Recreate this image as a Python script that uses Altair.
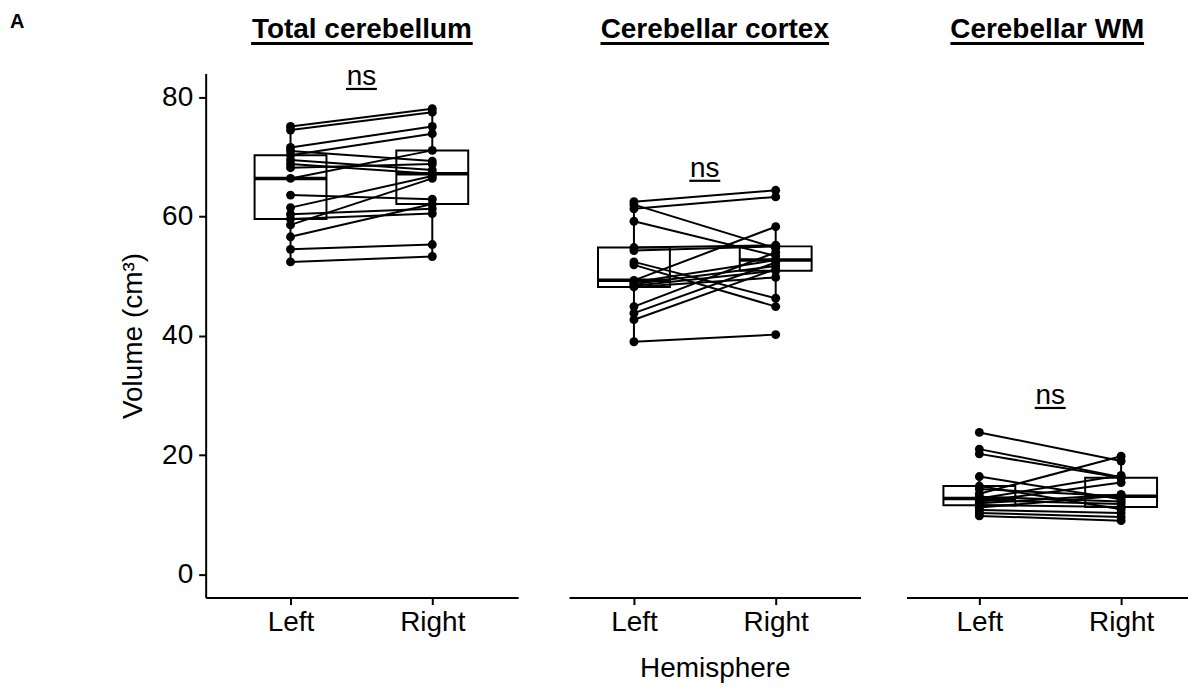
import altair as alt
import pandas as pd

# ---------------- data ----------------
panels = ["Total cerebellum", "Cerebellar cortex", "Cerebellar WM"]
hemispheres = ["Left", "Right"]

total_left = [75.1, 74.5, 71.6, 71.0, 70.3, 69.5, 68.8, 68.2, 66.4, 63.6, 61.5, 60.4, 59.6, 58.6, 56.6, 54.5, 52.4]
total_right = [78.1, 77.5, 75.1, 69.3, 73.9, 67.8, 67.2, 68.8, 71.1, 62.9, 66.8, 61.3, 60.5, 66.4, 62.1, 55.3, 53.3]

cortex_left = [62.5, 62.0, 61.3, 59.2, 54.8, 54.3, 52.4, 51.9, 49.3, 49.0, 48.7, 48.4, 48.2, 44.9, 43.8, 42.7, 39.0]
cortex_right = [64.4, 54.7, 63.3, 53.4, 55.2, 55.0, 46.3, 44.9, 58.3, 52.7, 51.7, 50.9, 49.8, 54.0, 52.3, 51.2, 40.2]

wm_left = [23.8, 21.0, 20.2, 16.4, 14.8, 14.3, 13.5, 13.0, 12.7, 12.4, 12.2, 11.9, 11.6, 11.2, 10.8, 10.3, 9.8]
wm_right = [19.0, 16.3, 16.2, 12.6, 10.9, 13.1, 19.8, 12.2, 16.6, 11.8, 15.4, 13.4, 11.3, 13.2, 10.3, 9.6, 9.0]

ns_labels = ["ns", "ns", "ns"]
ns_y = [81.4, 66.0, 27.9]
y_ticks = [0, 20, 40, 60, 80]

series = [(total_left, total_right), (cortex_left, cortex_right), (wm_left, wm_right)]

# ---------------- layout / style ----------------
FONT = "Liberation Sans"
FS = 28
Y_DOMAIN = [-3.9, 84.0]
HEIGHT = 525
STEP = 142
widths = [313, 292, 282]
left_offsets = [85, 65, 73]
title_widths = [222, 229, 194]


def panel(i):
    left, right = series[i]
    rows = []
    for s, v in enumerate(left):
        rows.append({"subject": s, "hemisphere": "Left", "volume": v})
    for s, v in enumerate(right):
        rows.append({"subject": s, "hemisphere": "Right", "volume": v})
    df = pd.DataFrame(rows)

    W = widths[i]
    a = left_offsets[i]
    pad = (W / STEP - 1) / 2
    align = a / (W - STEP)
    xscale = alt.Scale(type="point", domain=hemispheres, padding=pad, align=align)
    yscale = alt.Scale(domain=Y_DOMAIN, nice=False, zero=False)

    xaxis_kw = dict(labelAngle=0, labelFontSize=FS, labelFont=FONT, labelColor="black",
                    tickSize=7, tickWidth=2, tickColor="black",
                    domainColor="black", domainWidth=2, grid=False, labelPadding=4)
    if i == 1:
        xaxis_kw.update(title="Hemisphere", titleFontSize=FS, titleFont=FONT,
                        titleFontWeight="normal", titleColor="black", titlePadding=18)
    else:
        xaxis_kw.update(title="")
    xaxis = alt.Axis(**xaxis_kw)

    if i == 0:
        yaxis = alt.Axis(values=y_ticks, title="Volume (cm³)", titleFontSize=FS, titleFont=FONT,
                         titleFontWeight="normal", titleColor="black", titlePadding=14,
                         labelFontSize=FS, labelFont=FONT, labelColor="black",
                         tickSize=7, tickWidth=2, tickColor="black",
                         domainColor="black", domainWidth=2, grid=False, labelPadding=6)
        y = alt.Y("volume:Q", scale=yscale, axis=yaxis)
    else:
        y = alt.Y("volume:Q", scale=yscale, axis=None)

    x = alt.X("hemisphere:N", scale=xscale, axis=xaxis, sort=hemispheres)
    base = alt.Chart(df).encode(x=x, y=y)

    box = base.mark_boxplot(
        size=72, extent=1.5, outliers=False, ticks=False,
        box={"fill": "white", "stroke": "black", "strokeWidth": 2},
        median={"color": "black", "thickness": 3.5, "opacity": 1},
        rule={"color": "black", "strokeWidth": 2},
    )
    lines = base.mark_line(color="black", strokeWidth=2).encode(detail="subject:N")
    pts = base.mark_circle(color="black", opacity=1, size=80)

    cx = a + STEP / 2
    ns_df = pd.DataFrame({"label": [ns_labels[i]], "volume": [ns_y[i]]})
    ns_text = alt.Chart(ns_df).mark_text(font=FONT, fontSize=FS, baseline="alphabetic",
                                         align="center", dy=-4, color="black").encode(
        x=alt.value(cx), y=alt.Y("volume:Q", scale=yscale), text="label:N")
    ns_rule = alt.Chart(ns_df).mark_rule(color="black", strokeWidth=2.2).encode(
        x=alt.value(cx - 15.5), x2=alt.value(cx + 15.5), y=alt.Y("volume:Q", scale=yscale))

    tdf = pd.DataFrame({"t": [panels[i]]})
    title = alt.Chart(tdf).mark_text(font=FONT, fontSize=FS, fontWeight="bold",
                                     baseline="alphabetic", align="center", color="black").encode(
        x=alt.value(W / 2), y=alt.value(-36), text="t:N")
    tw = title_widths[i]
    uline = alt.Chart(tdf).mark_rule(color="black", strokeWidth=3).encode(
        x=alt.value(W / 2 - tw / 2), x2=alt.value(W / 2 + tw / 2), y=alt.value(-30))

    layers = [box, lines, pts, ns_text, ns_rule, title, uline]
    if i == 0:
        adf = pd.DataFrame({"t": ["A"]})
        alab = alt.Chart(adf).mark_text(font=FONT, fontSize=20, fontWeight="bold",
                                        baseline="alphabetic", align="left", color="black").encode(
            x=alt.value(-196), y=alt.value(-46), text="t:N")
        layers.append(alab)

    return alt.layer(*layers).properties(width=W, height=HEIGHT)


p1, p2, p3 = panel(0), panel(1), panel(2)
chart = alt.hconcat(p1, alt.hconcat(p2, p3, spacing=46), spacing=51).properties(
    padding={"left": 2, "top": 3, "right": 0, "bottom": 0}
).configure_view(strokeWidth=0).configure_concat(spacing=51)

chart.save("out.html", embed_options={"renderer": "svg", "actions": False})
